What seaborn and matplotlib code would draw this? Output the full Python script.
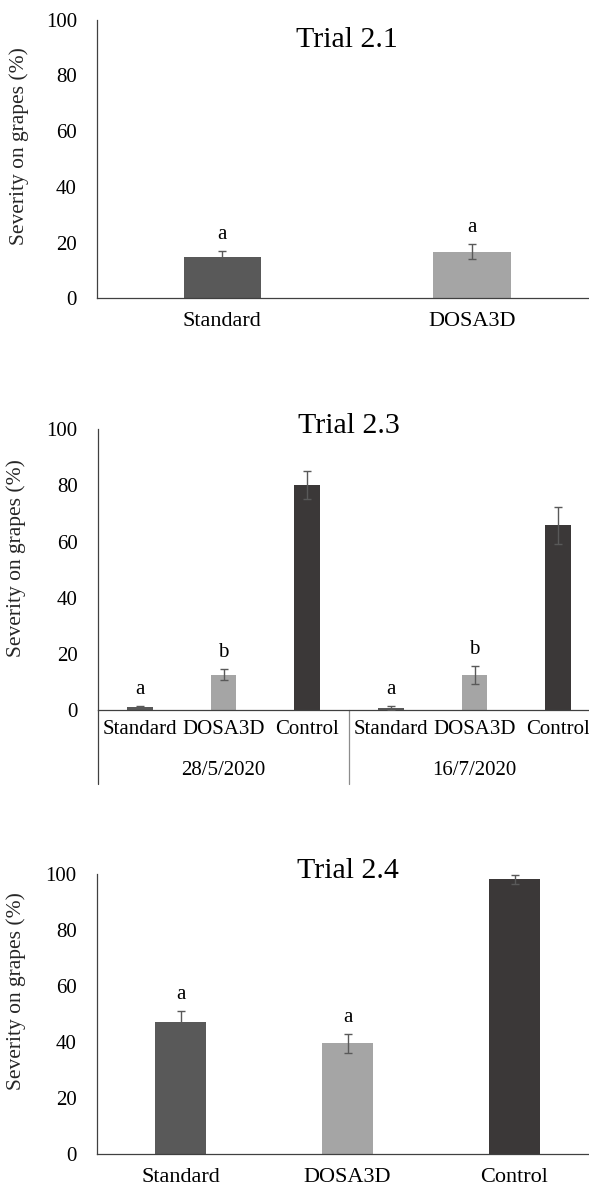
import numpy as np
import pandas as pd
import matplotlib
matplotlib.use("Agg")
import matplotlib.pyplot as plt
import matplotlib.transforms as mtransforms
import seaborn as sns

# ---- data -------------------------------------------------------------
trial21_treatments = ["Standard", "DOSA3D"]
trial21_severity = [15.0, 16.8]
trial21_err = [2.1, 2.6]
trial21_letters = ["a", "a"]

trial23_dates = ["28/5/2020", "16/7/2020"]
trial23_treatments = ["Standard", "DOSA3D", "Control"]
trial23_severity = [1.0, 12.5, 80.0, 0.7, 12.4, 65.8]
trial23_err = [0.4, 2.0, 5.0, 0.6, 3.3, 6.6]
trial23_letters = ["a", "b", "", "a", "b", ""]

trial24_treatments = ["Standard", "DOSA3D", "Control"]
trial24_severity = [47.0, 39.5, 98.2]
trial24_err = [4.0, 3.4, 1.6]
trial24_letters = ["a", "a", ""]

titles = ["Trial 2.1", "Trial 2.3", "Trial 2.4"]
y_label = "Severity on grapes (%)"
y_ticks = [0, 20, 40, 60, 80, 100]

treatment_colors = {"Standard": "#595959", "DOSA3D": "#a5a5a5", "Control": "#3b3838"}

# ---- style ------------------------------------------------------------
sns.set_style("white")
plt.rcParams["font.family"] = ["Liberation Serif", "DejaVu Serif"]
plt.rcParams["text.color"] = "#000000"
plt.rcParams["xtick.color"] = "#000000"
plt.rcParams["ytick.color"] = "#404040"
plt.rcParams["ytick.labelcolor"] = "#000000"

TICK_FS = 15
TITLE_FS = 21.5
LABEL_FS = 15.5
SPINE_C = "#404040"
ERR_C = "#595959"

fig = plt.figure(figsize=(5.89, 11.89), dpi=100)

axes_boxes = [
    [0.1652, 0.7491, 0.8484, 0.2343],
    [0.1664, 0.4029, 0.8523, 0.2361],
    [0.1647, 0.0297, 0.8506, 0.2352],
]


def draw_panel(ax, keys, treatments, severity, err, letters, title,
               title_y, label_xy, xpad, xfs, letter_off=8.6):
    df = pd.DataFrame({"key": keys, "treatment": treatments, "severity": severity})
    sns.barplot(data=df, x="key", y="severity", hue="treatment", order=keys,
                palette=treatment_colors, width=0.31, dodge=False,
                errorbar=None, legend=False, linewidth=0, ax=ax)
    pos = np.arange(len(keys))
    ax.errorbar(pos, severity, yerr=err, fmt="none", ecolor=ERR_C,
                elinewidth=1.0, capsize=3, capthick=1.0, zorder=3)
    for x, m, e, lab in zip(pos, severity, err, letters):
        if lab:
            ax.annotate(lab, (x, m + e), xytext=(0, letter_off),
                        textcoords="offset points", ha="center", va="baseline",
                        fontsize=TICK_FS)
    ax.set_xlim(-0.5, len(keys) - 0.5)
    ax.set_ylim(0, 100)
    ax.set_yticks(y_ticks)
    ax.set_xticks(pos)
    ax.set_xticklabels(treatments, fontsize=xfs)
    ax.tick_params(axis="x", length=0, pad=xpad)
    ax.tick_params(axis="y", length=4.7, width=0.9, direction="out",
                   pad=10, labelsize=TICK_FS)
    ax.set_xlabel("")
    ax.set_ylabel(y_label, fontsize=LABEL_FS)
    ax.yaxis.set_label_coords(*label_xy)
    for s in ["top", "right"]:
        ax.spines[s].set_visible(False)
    for s in ["left", "bottom"]:
        ax.spines[s].set_color(SPINE_C)
        ax.spines[s].set_linewidth(0.9)
    ax.text(0.5, title_y, title, transform=ax.transAxes, ha="center",
            va="baseline", fontsize=TITLE_FS)


# Trial 2.1
ax1 = fig.add_axes(axes_boxes[0])
draw_panel(ax1, trial21_treatments, trial21_treatments, trial21_severity,
           trial21_err, trial21_letters, titles[0], 0.901, (-0.136, 0.548),
           10, 16)

# Trial 2.3 (two assessment dates)
ax2 = fig.add_axes(axes_boxes[1])
keys23 = [f"{t} {d}" for d in trial23_dates for t in trial23_treatments]
treat23 = [t for d in trial23_dates for t in trial23_treatments]
draw_panel(ax2, keys23, treat23, trial23_severity, trial23_err,
           trial23_letters, titles[1], 0.987, (-0.143, 0.541), 7, 15)

# second-level category axis: dates and group dividers
blend = mtransforms.blended_transform_factory(ax2.transData, ax2.transAxes)
n_t = len(trial23_treatments)
for g, d in enumerate(trial23_dates):
    ax2.text(g * n_t + (n_t - 1) / 2, -0.217, d, transform=blend,
             ha="center", va="center", fontsize=TICK_FS)
ax2.plot([-0.5, -0.5], [0, -0.262], transform=blend, color=SPINE_C,
         lw=0.9, clip_on=False)
ax2.plot([n_t - 0.5, n_t - 0.5], [0, -0.262], transform=blend,
         color="#8c8c8c", lw=0.9, clip_on=False)

# Trial 2.4
ax3 = fig.add_axes(axes_boxes[2])
draw_panel(ax3, trial24_treatments, trial24_treatments, trial24_severity,
           trial24_err, trial24_letters, titles[2], 0.985, (-0.142, 0.582),
           10, 16)

fig.savefig("out.png", dpi=100)
